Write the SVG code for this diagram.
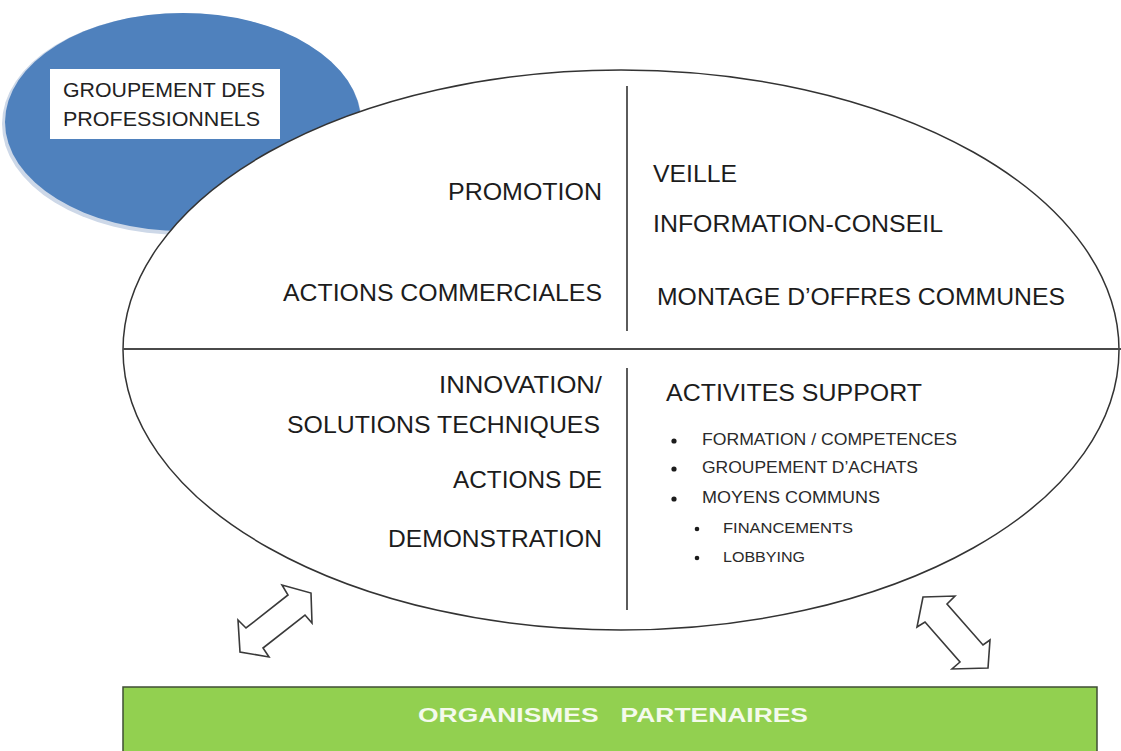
<svg xmlns="http://www.w3.org/2000/svg" width="1121" height="751" viewBox="0 0 1121 751">
<style>
.t{font-family:"Liberation Sans",Arial,sans-serif;font-size:24px;fill:#1c1c1c}
.b{font-family:"Liberation Sans",Arial,sans-serif;font-size:17px;fill:#2a2a2a}
.s{font-family:"Liberation Sans",Arial,sans-serif;font-size:14.5px;fill:#2a2a2a}
.dot{fill:#1c1c1c}
.arrow{fill:#ffffff;stroke:#3a3a3a;stroke-width:1.6;stroke-linejoin:miter}
</style>
<rect width="1121" height="751" fill="#ffffff"/>
<g id="groupement">
<ellipse cx="182" cy="124" rx="180" ry="111" fill="#cdd8e8"/>
<ellipse cx="183" cy="122" rx="178" ry="109" fill="#4f81bd"/>
<rect x="50" y="69" width="230" height="70" fill="#ffffff"/>
<text x="63" y="97" style="font-family:'Liberation Sans',Arial,sans-serif;font-size:21px;fill:#222" textLength="202" lengthAdjust="spacingAndGlyphs">GROUPEMENT DES</text>
<text x="63" y="126" style="font-family:'Liberation Sans',Arial,sans-serif;font-size:21px;fill:#222" textLength="197" lengthAdjust="spacingAndGlyphs">PROFESSIONNELS</text>
</g>
<g id="main-ellipse">
<ellipse cx="621" cy="350" rx="498" ry="280" fill="#ffffff" stroke="#333333" stroke-width="1.5"/>
<line x1="123" y1="349" x2="1121" y2="349" stroke="#4a4a4a" stroke-width="2"/>
<line x1="627" y1="86" x2="627" y2="331" stroke="#333333" stroke-width="1.6"/>
<line x1="627" y1="368" x2="627" y2="610" stroke="#333333" stroke-width="1.6"/>
</g>
<g id="quadrant-top-left">
<text class="t" x="448" y="200" textLength="154" lengthAdjust="spacingAndGlyphs">PROMOTION</text>
<text class="t" x="283" y="301" textLength="319" lengthAdjust="spacingAndGlyphs">ACTIONS COMMERCIALES</text>
</g>
<g id="quadrant-top-right">
<text class="t" x="653" y="182" textLength="84" lengthAdjust="spacingAndGlyphs">VEILLE</text>
<text class="t" x="653" y="232" textLength="290" lengthAdjust="spacingAndGlyphs">INFORMATION-CONSEIL</text>
<text class="t" x="657" y="305" textLength="408" lengthAdjust="spacingAndGlyphs">MONTAGE D’OFFRES COMMUNES</text>
</g>
<g id="quadrant-bottom-left">
<text class="t" x="439" y="393" textLength="163" lengthAdjust="spacingAndGlyphs">INNOVATION/</text>
<text class="t" x="287" y="433" textLength="313" lengthAdjust="spacingAndGlyphs">SOLUTIONS TECHNIQUES</text>
<text class="t" x="453" y="488" textLength="149" lengthAdjust="spacingAndGlyphs">ACTIONS DE</text>
<text class="t" x="388" y="547" textLength="214" lengthAdjust="spacingAndGlyphs">DEMONSTRATION</text>
</g>
<g id="quadrant-bottom-right">
<text class="t" x="666" y="401" textLength="256" lengthAdjust="spacingAndGlyphs">ACTIVITES SUPPORT</text>
<circle class="dot" cx="674" cy="441" r="2.6"/>
<text class="b" x="702" y="445" textLength="255" lengthAdjust="spacingAndGlyphs">FORMATION / COMPETENCES</text>
<circle class="dot" cx="674" cy="469" r="2.6"/>
<text class="b" x="702" y="473" textLength="216" lengthAdjust="spacingAndGlyphs">GROUPEMENT D’ACHATS</text>
<circle class="dot" cx="674" cy="499" r="2.6"/>
<text class="b" x="702" y="503" textLength="178" lengthAdjust="spacingAndGlyphs">MOYENS COMMUNS</text>
<circle class="dot" cx="697" cy="529" r="2.3"/>
<text class="s" x="723" y="533" textLength="130" lengthAdjust="spacingAndGlyphs">FINANCEMENTS</text>
<circle class="dot" cx="697" cy="558" r="2.3"/>
<text class="s" x="723" y="562" textLength="82" lengthAdjust="spacingAndGlyphs">LOBBYING</text>
</g>
<g id="connectors">
<polygon class="arrow" points="311,593 312,623 305,615 263,648 269,657 240,652 238,620 246,628 288,595 282,585"/>
<polygon class="arrow" points="923,597 955,596 947,604 983,645 990,640 988,668 952,669 960,662 925,622 917,627"/>
</g>
<g id="partenaires">
<rect x="123" y="687" width="974" height="70" fill="#92d050" stroke="#3f4d35" stroke-width="1.5"/>
<text x="418" y="722" style="font-family:'Liberation Sans',Arial,sans-serif;font-size:21px;font-weight:bold;fill:#f4faec" textLength="390" lengthAdjust="spacingAndGlyphs" xml:space="preserve">ORGANISMES   PARTENAIRES</text>
</g>
</svg>
